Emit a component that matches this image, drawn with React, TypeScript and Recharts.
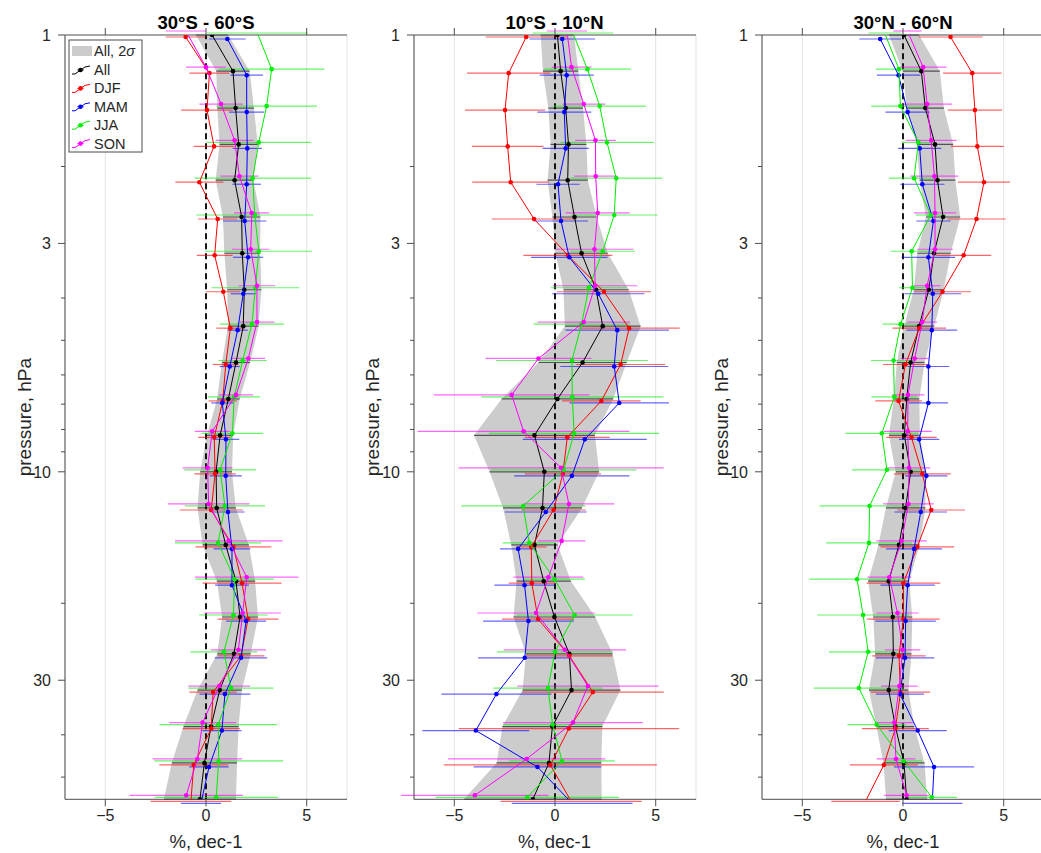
import React from 'react';
import {
  ComposedChart,
  Area,
  Scatter,
  ErrorBar,
  XAxis,
  YAxis,
  CartesianGrid,
  ReferenceLine,
} from 'recharts';

// pressure levels (hPa), 12 per decade
const LEVELS = [1, 1.21, 1.47, 1.78, 2.15, 2.61, 3.16, 3.83, 4.64, 5.62, 6.81, 8.25, 10, 12.1, 14.7, 17.8, 21.5, 26.1, 31.6, 38.3, 46.4, 56.2];
const P_TICKS = [1, 2, 3, 4, 5, 6, 7, 8, 9, 10, 20, 30, 40, 50];
const P_LABELS = [1, 3, 10, 30];
const X_TICKS = [-5, 0, 5];

// 30S - 60S
const S_ALL = [0.3, 1.34, 1.47, 1.62, 1.42, 1.77, 1.8, 1.9, 1.85, 1.49, 1.11, 0.7, 0.5, 0.53, 0.98, 1.49, 1.69, 1.39, 0.68, 0.25, -0.08, -0.3];
const S_DJF = [-1.01, 0.17, 0.05, 0.4, -0.33, 0.58, 0.43, 0.86, 1.21, 0.98, 0.83, 0.41, 0.45, 0.26, 1.36, 1.79, 2.09, 1.74, 0.35, 0.26, -0.61, -0.75];
const S_MAM = [1.06, 2.02, 2.02, 2.05, 2.02, 1.92, 2.09, 1.85, 1.57, 1.18, 0.81, 0.99, 0.98, 1.09, 1.29, 1.29, 1.99, 1.74, 0.94, 0.79, 0.15, -0.25];
const S_JJA = [2.55, 3.26, 3.01, 2.62, 2.32, 2.42, 2.62, 2.45, 2.28, 1.82, 1.4, 1.31, 0.7, 0.94, 0.6, 1.42, 1.36, 0.89, 1.24, 0.61, 0.63, 0.51];
const S_SON = [-1.0, 0.0, 0.75, 1.42, 1.66, 2.27, 2.22, 2.53, 2.53, 2.1, 1.49, 0.31, 0.08, 0.13, 1.13, 2.02, 1.82, 1.61, 0.66, -0.17, -0.43, -0.98];
const S_ALL_ERR = [0.8, 0.83, 0.91, 0.95, 0.94, 0.93, 0.89, 0.85, 0.76, 0.7, 0.56, 0.65, 0.79, 0.95, 1.15, 0.95, 0.89, 0.83, 1.1, 1.37, 1.62, 1.79];
const S_DJF_ERR = [0.99, 0.99, 1.28, 1.02, 1.19, 0.97, 0.89, 0.84, 0.7, 0.64, 0.7, 0.8, 1.03, 1.57, 1.88, 1.96, 1.51, 1.16, 1.18, 1.42, 1.71, 2.0];
const S_MAM_ERR = [0.91, 0.81, 0.87, 0.73, 0.71, 1.08, 0.75, 0.62, 0.5, 0.5, 0.55, 0.66, 0.8, 0.83, 0.91, 0.84, 0.99, 1.3, 1.26, 0.97, 0.98, 1.0];
const S_JJA_ERR = [2.5, 2.62, 2.5, 2.58, 2.88, 2.9, 2.65, 2.18, 1.59, 1.2, 1.29, 1.53, 1.78, 1.99, 2.14, 1.95, 1.7, 1.66, 2.11, 2.92, 3.2, 3.06];
const S_SON_ERR = [1.0, 0.99, 1.08, 0.94, 0.94, 0.87, 0.93, 0.91, 0.87, 0.83, 0.85, 0.87, 1.24, 2.03, 2.67, 2.57, 1.9, 1.37, 1.53, 1.66, 2.22, 2.81];

// 10S - 10N
const E_ALL = [0.12, 0.28, 0.53, 0.67, 0.63, 0.97, 1.32, 2.04, 2.37, 1.37, 0.12, -1.02, -0.53, -0.62, -1.02, -0.56, -0.03, 0.71, 0.82, -0.13, -0.3, -1.1];
const E_DJF = [-1.43, -2.3, -2.48, -2.35, -2.2, -1.04, 0.64, 2.43, 3.68, 3.26, 2.3, 0.61, 0.39, -0.07, -1.18, -1.15, -0.84, 0.71, 1.88, 0.69, -0.23, 0.8];
const E_MAM = [0.36, 0.58, 0.46, 0.53, 0.15, 0.3, 0.71, 2.15, 3.09, 2.94, 3.19, 1.48, 0.84, -0.46, -1.83, -1.51, -1.32, -1.5, -2.91, -3.93, -0.87, 0.85];
const E_JJA = [0.89, 1.61, 2.22, 2.58, 3.04, 2.94, 2.37, 1.68, 1.32, 0.84, 0.86, 0.95, 0.43, -1.58, -1.28, -0.02, 0.97, 0.0, -0.35, -0.12, 0.35, -1.38];
const E_SON = [0.59, 0.82, 1.43, 2.01, 2.02, 2.12, 1.96, 1.99, 1.43, -0.82, -2.15, -1.56, 0.3, 0.69, 0.33, -0.33, -0.94, 0.49, 1.63, 0.89, -1.41, -3.98];
const E_ALL_ERR = [0.83, 0.88, 0.86, 0.89, 1.0, 1.1, 1.3, 1.62, 1.88, 2.19, 2.77, 3.0, 2.72, 1.96, 1.15, 1.35, 2.03, 2.15, 2.43, 2.48, 2.6, 3.42];
const E_DJF_ERR = [2.01, 2.07, 1.99, 1.78, 1.91, 2.1, 2.21, 2.33, 2.51, 2.22, 1.95, 2.11, 1.89, 1.6, 0.76, 1.15, 1.79, 2.14, 3.52, 5.47, 5.29, 3.5];
const E_MAM_ERR = [1.63, 1.34, 1.34, 1.15, 1.07, 1.34, 1.9, 2.29, 2.57, 2.68, 2.47, 3.08, 2.86, 2.03, 0.9, 1.5, 2.25, 2.32, 2.73, 2.65, 3.17, 3.0];
const E_JJA_ERR = [2.0, 2.15, 2.3, 2.32, 2.29, 2.15, 1.6, 1.89, 2.39, 3.77, 4.52, 4.22, 3.62, 3.08, 1.32, 1.5, 2.89, 2.88, 2.71, 2.47, 2.62, 4.55];
const E_SON_ERR = [1.0, 0.99, 1.07, 1.01, 1.07, 1.59, 1.93, 2.1, 2.3, 2.63, 3.87, 5.26, 5.09, 2.25, 1.18, 1.73, 2.92, 3.04, 3.5, 3.47, 3.91, 3.66];

// 30N - 60N
const N_ALL = [0.05, 0.91, 1.11, 1.59, 1.71, 1.99, 1.54, 1.28, 0.8, 0.38, 0.18, 0.07, 0.38, 0.13, -0.2, -0.71, -0.51, -0.48, -0.71, -0.38, 0.05, 0.18];
const N_DJF = [2.36, 3.44, 3.57, 3.69, 4.02, 3.65, 3.01, 1.96, 0.81, 0.12, -0.22, 0.42, 0.96, 1.4, 0.71, 0.02, 0.02, -0.2, -0.12, -0.38, -0.95, -1.86];
const N_MAM = [-1.13, -0.22, 0.23, 0.83, 0.96, 1.51, 1.26, 1.48, 1.43, 1.26, 1.26, 0.8, 1.16, 0.88, 0.55, 0.23, 0.13, 0.1, -0.15, 0.73, 1.54, 1.45];
const N_JJA = [-0.91, -0.2, -0.13, 0.76, 0.55, 1.38, 0.43, 0.47, -0.12, -0.47, -0.43, -1.05, -0.8, -1.66, -1.69, -2.28, -1.98, -1.73, -2.19, -1.31, 0.03, 1.43];
const N_SON = [0.22, 1.0, 1.2, 1.4, 1.56, 1.59, 1.59, 1.2, 0.95, 0.58, 0.25, 0.23, 0.3, 0.27, -0.07, -0.68, -0.27, -0.02, -0.18, -0.43, -0.35, 0.18];
const N_ALL_ERR = [0.75, 0.92, 0.92, 0.9, 0.89, 0.85, 0.83, 0.74, 0.75, 0.69, 0.63, 0.77, 0.74, 0.98, 1.02, 1.02, 0.97, 0.9, 0.98, 0.94, 1.02, 1.02];
const N_DJF_ERR = [1.59, 1.45, 1.35, 1.31, 1.29, 1.45, 1.37, 1.41, 1.33, 1.12, 1.15, 1.25, 1.41, 1.68, 1.83, 1.83, 1.8, 1.33, 1.47, 1.66, 1.69, 1.7];
const N_MAM_ERR = [1.04, 1.08, 1.1, 1.07, 1.1, 0.85, 1.33, 1.41, 1.26, 1.04, 0.97, 1.0, 1.05, 1.31, 1.39, 1.35, 1.5, 1.45, 1.2, 1.44, 1.99, 1.5];
const N_JJA_ERR = [0.8, 1.16, 1.45, 0.83, 1.25, 0.75, 1.04, 0.66, 0.89, 1.12, 1.14, 1.8, 1.74, 2.49, 2.12, 2.37, 2.28, 1.95, 2.24, 1.45, 0.91, 1.25];
const N_SON_ERR = [0.7, 1.16, 1.25, 1.26, 1.19, 1.05, 0.89, 0.66, 0.74, 0.69, 0.81, 1.2, 1.05, 1.26, 1.25, 1.08, 1.04, 0.88, 0.91, 0.91, 0.96, 1.12];

const FONT = '"Liberation Sans", Arial, Helvetica, sans-serif';
const AXIS_COLOR = '#4d4d4d';
const TEXT_COLOR = '#262626';
const BAND_COLOR = '#cccccc';

// series style: colour + small vertical dodge (log10 hPa) so bars don't overlap
const STYLE: Record<string, { color: string; dodge: number }> = {
  All: { color: '#000000', dodge: 0 },
  DJF: { color: '#ff0000', dodge: 0.0046 },
  MAM: { color: '#0000ff', dodge: 0.0092 },
  JJA: { color: '#00ee00', dodge: -0.0046 },
  SON: { color: '#ff00ff', dodge: -0.0092 },
};

const PLOT_TOP = 35;
const PLOT_BOTTOM = 799.3;
const PLOT_W = 282;
const AXIS_W = 60;
const RIGHT_PAD = 12;
const TOP_AXIS_H = 1;
const BOTTOM_AXIS_H = 45;

const fmtX = (v: number) => (v < 0 ? `\u2212${Math.abs(v)}` : `${v}`);

const LeftTick = (props: any) => {
  const { x, y, payload } = props;
  const major = P_LABELS.includes(payload.value);
  return (
    <g>
      <line x1={x} y1={y} x2={x - (major ? 7 : 4)} y2={y} stroke={AXIS_COLOR} strokeWidth={1} />
      {major && (
        <text x={x - 14} y={y} dy="0.36em" textAnchor="end" fontSize={16} fill={TEXT_COLOR} fontFamily={FONT}>
          {payload.value}
        </text>
      )}
    </g>
  );
};

const RightTick = (props: any) => {
  const { x, y, payload } = props;
  const major = P_LABELS.includes(payload.value);
  return <line x1={x} y1={y} x2={x + (major ? 7 : 4)} y2={y} stroke={AXIS_COLOR} strokeWidth={1} />;
};

const BottomTick = (props: any) => {
  const { x, y, payload } = props;
  return (
    <g>
      <line x1={x} y1={y} x2={x} y2={y + 7} stroke={AXIS_COLOR} strokeWidth={1} />
      <text x={x} y={y + 21.5} textAnchor="middle" fontSize={16} fill={TEXT_COLOR} fontFamily={FONT}>
        {fmtX(payload.value)}
      </text>
    </g>
  );
};

const TopTick = (props: any) => {
  const { x, y } = props;
  return <line x1={x} y1={y} x2={x} y2={y - 7} stroke={AXIS_COLOR} strokeWidth={1} />;
};

type Series = { name: string; values: number[]; errs: number[] };

function Panel({ plotLeft, series }: { plotLeft: number; series: Series[] }) {
  const all = series[0];
  const bandRows = LEVELS.map((p, k) => ({
    p,
    v: all.values[k],
    band: [all.values[k] - all.errs[k], all.values[k] + all.errs[k]],
  }));
  return (
    <div style={{ position: 'absolute', left: plotLeft - AXIS_W, top: 0 }}>
      <ComposedChart
        width={AXIS_W + PLOT_W + RIGHT_PAD}
        height={853}
        layout="vertical"
        data={bandRows}
        margin={{ top: PLOT_TOP - TOP_AXIS_H, right: RIGHT_PAD, bottom: 853 - PLOT_BOTTOM - BOTTOM_AXIS_H, left: 0 }}
      >
        <CartesianGrid horizontal={false} stroke="#e3e3e3" />
        <XAxis
          type="number"
          dataKey="v"
          domain={[-7, 7]}
          ticks={X_TICKS}
          interval={0}
          allowDataOverflow
          height={BOTTOM_AXIS_H}
          tickSize={0}
          tickMargin={0}
          tickLine={false}
          tick={BottomTick}
          stroke={AXIS_COLOR}
        />
        <XAxis
          xAxisId="top"
          orientation="top"
          type="number"
          dataKey="v"
          domain={[-7, 7]}
          ticks={X_TICKS}
          interval={0}
          allowDataOverflow
          height={TOP_AXIS_H}
          tickSize={0}
          tickMargin={0}
          tickLine={false}
          tick={TopTick}
          stroke={AXIS_COLOR}
        />
        <YAxis
          type="number"
          dataKey="p"
          scale="log"
          domain={[1, 56.2]}
          ticks={P_TICKS}
          interval={0}
          allowDataOverflow
          width={AXIS_W}
          tickSize={0}
          tickMargin={0}
          tickLine={false}
          tick={LeftTick}
          stroke={AXIS_COLOR}
        />
        <YAxis
          yAxisId="right"
          orientation="right"
          type="number"
          dataKey="p"
          scale="log"
          domain={[1, 56.2]}
          ticks={P_TICKS}
          interval={0}
          allowDataOverflow
          width={0}
          tickSize={0}
          tickMargin={0}
          tickLine={false}
          tick={RightTick}
          stroke={AXIS_COLOR}
        />
        <Area
          dataKey="band"
          type="linear"
          fill={BAND_COLOR}
          fillOpacity={1}
          stroke="none"
          dot={false}
          activeDot={false}
          isAnimationActive={false}
        />
        <ReferenceLine x={0} stroke="#000" strokeWidth={1.8} strokeDasharray="6 4" />
        {series.map((s) => {
          const st = STYLE[s.name];
          const rows = LEVELS.map((p, k) => ({ p: p * Math.pow(10, st.dodge), v: s.values[k], e: s.errs[k] }));
          return (
            <Scatter
              key={s.name}
              data={rows}
              line={{ stroke: st.color, strokeWidth: 1 }}
              lineType="joint"
              isAnimationActive={false}
              shape={(p: any) => <circle cx={p.cx} cy={p.cy} r={2.3} fill={st.color} />}
            >
              <ErrorBar
                dataKey="e"
                direction="x"
                width={0}
                stroke={st.color}
                strokeOpacity={0.6}
                strokeWidth={1.2}
                isAnimationActive={false}
              />
            </Scatter>
          );
        })}
      </ComposedChart>
    </div>
  );
}

const PANELS = [
  {
    title: '30°S - 60°S',
    plotLeft: 65,
    series: [
      { name: 'All', values: S_ALL, errs: S_ALL_ERR },
      { name: 'DJF', values: S_DJF, errs: S_DJF_ERR },
      { name: 'MAM', values: S_MAM, errs: S_MAM_ERR },
      { name: 'JJA', values: S_JJA, errs: S_JJA_ERR },
      { name: 'SON', values: S_SON, errs: S_SON_ERR },
    ],
  },
  {
    title: '10°S - 10°N',
    plotLeft: 413.5,
    series: [
      { name: 'All', values: E_ALL, errs: E_ALL_ERR },
      { name: 'DJF', values: E_DJF, errs: E_DJF_ERR },
      { name: 'MAM', values: E_MAM, errs: E_MAM_ERR },
      { name: 'JJA', values: E_JJA, errs: E_JJA_ERR },
      { name: 'SON', values: E_SON, errs: E_SON_ERR },
    ],
  },
  {
    title: '30°N - 60°N',
    plotLeft: 762,
    series: [
      { name: 'All', values: N_ALL, errs: N_ALL_ERR },
      { name: 'DJF', values: N_DJF, errs: N_DJF_ERR },
      { name: 'MAM', values: N_MAM, errs: N_MAM_ERR },
      { name: 'JJA', values: N_JJA, errs: N_JJA_ERR },
      { name: 'SON', values: N_SON, errs: N_SON_ERR },
    ],
  },
];

const LEGEND_NAMES = ['All', 'DJF', 'MAM', 'JJA', 'SON'];

function LegendBox() {
  return (
    <g fontFamily={FONT} fontSize={14.5} fill={TEXT_COLOR}>
      <rect x={69} y={40} width={73} height={112} fill="#fff" stroke={AXIS_COLOR} strokeWidth={1} />
      <rect x={72} y={46} width={20} height={10} fill={BAND_COLOR} />
      <text x={94} y={56}>
        All, 2<tspan fontStyle="italic">σ</tspan>
      </text>
      {LEGEND_NAMES.map((n, i) => {
        const y = 70 + i * 18.4;
        const c = STYLE[n].color;
        return (
          <g key={n}>
            <path d={`M72,${y + 4} L75,${y + 4} L85,${y - 3} L90,${y - 4}`} fill="none" stroke={c} strokeWidth={1} />
            <line x1={77} y1={y} x2={84} y2={y} stroke={c} strokeOpacity={0.6} strokeWidth={1} />
            <circle cx={80.5} cy={y} r={2.3} fill={c} />
            <text x={94} y={y + 5}>{n}</text>
          </g>
        );
      })}
    </g>
  );
}

export default function App() {
  return (
    <div style={{ position: 'fixed', left: 0, top: 0, width: 1041, height: 853, overflow: 'hidden', background: '#fff' }}>
      {PANELS.map((pn) => (
        <Panel key={pn.title} plotLeft={pn.plotLeft} series={pn.series} />
      ))}
      <svg width={1041} height={853} style={{ position: 'absolute', left: 0, top: 0, pointerEvents: 'none' }}>
        {PANELS.map((pn) => {
          const cx = pn.plotLeft + PLOT_W / 2;
          const cy = (PLOT_TOP + PLOT_BOTTOM) / 2;
          const lx = pn.plotLeft - 34;
          return (
            <g key={pn.title} fontFamily={FONT} fill={TEXT_COLOR}>
              <text x={cx} y={28.5} textAnchor="middle" fontSize={18.5} fontWeight="bold" fill="#000">
                {pn.title}
              </text>
              <text x={cx} y={848} textAnchor="middle" fontSize={18.5}>
                %, dec-1
              </text>
              <text x={lx} y={cy} textAnchor="middle" fontSize={19} transform={`rotate(-90 ${lx} ${cy})`}>
                pressure, hPa
              </text>
            </g>
          );
        })}
        <LegendBox />
      </svg>
    </div>
  );
}
